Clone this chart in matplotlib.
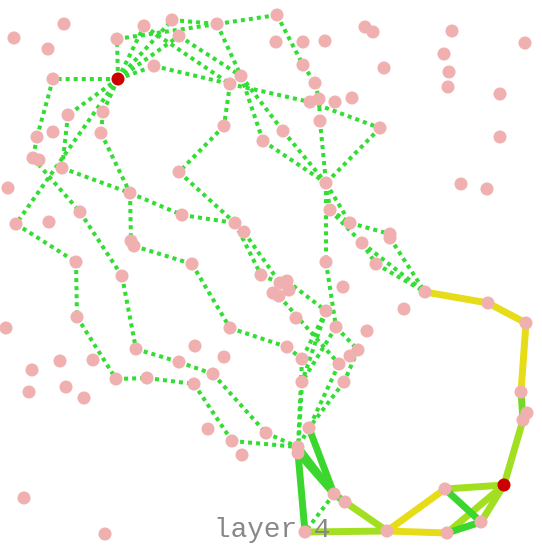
import matplotlib
matplotlib.use('Agg')
import matplotlib.pyplot as plt

# node positions (pixel space, y down)
node_x = [118, 53, 117, 144, 172, 179, 217, 277, 154, 241,
          230, 68, 103, 37, 53, 101, 33, 39, 62, 8,
          130, 80, 182, 16, 49, 235, 244, 131, 134, 76,
          192, 122, 261, 224, 263, 179, 14, 64, 48, 276,
          303, 325, 365, 373, 452, 525, 444, 303, 384, 449,
          448, 315, 500, 310, 319, 335, 352, 320, 380, 500,
          283, 326, 461, 487, 330, 350, 390, 390, 362, 376,
          326, 425, 488, 526, 404, 343, 280, 287, 289, 273,
          279, 296, 326, 336, 367, 287, 358, 350, 302, 339,
          344, 302, 521, 527, 523, 309, 266, 298, 298, 504,
          445, 334, 345, 481, 305, 387, 447, 6, 77, 136,
          195, 230, 224, 32, 60, 93, 179, 213, 29, 66,
          84, 116, 147, 194, 208, 232, 242, 24, 105]
node_y = [79, 79, 39, 26, 20, 36, 24, 15, 66, 76,
          84, 115, 112, 137, 132, 133, 158, 160, 168, 188,
          193, 212, 215, 224, 222, 223, 232, 241, 246, 262,
          264, 276, 275, 126, 141, 172, 38, 24, 49, 42,
          42, 41, 27, 32, 31, 43, 54, 65, 68, 72,
          87, 83, 94, 102, 99, 102, 98, 121, 128, 137,
          131, 183, 184, 189, 210, 223, 234, 238, 243, 264,
          262, 292, 303, 323, 309, 287, 283, 281, 290, 293,
          296, 318, 311, 327, 331, 347, 350, 356, 359, 364,
          382, 382, 392, 413, 420, 428, 433, 447, 453, 485,
          489, 494, 502, 522, 532, 531, 533, 328, 317, 349,
          346, 328, 357, 370, 361, 360, 362, 374, 392, 387,
          398, 379, 378, 384, 429, 441, 455, 498, 534]
red_nodes = [0, 99]

# dotted edges (source side first)
dotted_edges = [
    (0, 1), (0, 2), (0, 3), (0, 4), (0, 5), (0, 8), (0, 11), (0, 12), (0, 23),
    (2, 6), (4, 6), (6, 7), (3, 10), (5, 9), (6, 9),
    (8, 10), (10, 53), (53, 58), (58, 61),
    (7, 47), (47, 51), (51, 54), (54, 57), (57, 61),
    (10, 33), (33, 35), (35, 25), (9, 34), (34, 61), (9, 60), (60, 61),
    (1, 13), (13, 16), (16, 21), (21, 31), (31, 109), (109, 116), (116, 117),
    (117, 96), (96, 97),
    (23, 29), (29, 108), (108, 121), (121, 122), (122, 123), (123, 125), (125, 97),
    (11, 18), (18, 20), (20, 22), (22, 25),
    (12, 15), (15, 20), (20, 27), (28, 30), (30, 111), (111, 85), (85, 88),
    (25, 32), (26, 76), (32, 76), (77, 82), (80, 89),
    (61, 70), (70, 83), (82, 88), (82, 91), (83, 91), (83, 86), (86, 90),
    (88, 97), (91, 98), (89, 95), (90, 95), (95, 97),
    (61, 64), (61, 65), (64, 65), (65, 66), (67, 71), (64, 68), (68, 69),
    (69, 71), (68, 71),
    (101, 104),
]

# solid edges and their colour
solid_edges = [(71, 72), (72, 73), (73, 92), (100, 105), (105, 106),
               (92, 94), (94, 99), (99, 100), (99, 103), (99, 106),
               (105, 104), (105, 102),
               (100, 103), (103, 106), (104, 98), (98, 101), (97, 101),
               (95, 101), (101, 102)]
solid_colors = ['#e6dd18', '#e6dd18', '#e6dd18', '#e6dd18', '#e6dd18',
                '#78d82a', '#a2df20', '#a2df20', '#a2df20', '#a2df20',
                '#a2df20', '#a2df20',
                '#3bd62e', '#3bd62e', '#3bd62e', '#3bd62e', '#3bd62e',
                '#3bd62e', '#3bd62e']

fig = plt.figure(figsize=(5.42, 5.45), dpi=100)
ax = fig.add_axes([0, 0, 1, 1])
ax.set_xlim(0, 542)
ax.set_ylim(545, 0)
ax.axis('off')

for a, b in dotted_edges:
    ax.plot([node_x[a], node_x[b]], [node_y[a], node_y[b]],
            color='#33dd33', lw=2.9, linestyle=(0, (1, 1)),
            dash_capstyle='butt', zorder=1)

for (a, b), c in zip(solid_edges, solid_colors):
    ax.plot([node_x[a], node_x[b]], [node_y[a], node_y[b]],
            color=c, lw=5, solid_capstyle='round', zorder=2)

colors = ['#cc0000' if i in red_nodes else '#f0b0b0' for i in range(len(node_x))]
ax.scatter(node_x, node_y, s=88, c=colors, linewidths=0, zorder=3)

ax.text(272, 537, 'layer 4', family='Liberation Mono', fontsize=20,
        color='#888888', ha='center', va='baseline', zorder=4)

fig.savefig('out.png', dpi=100)
